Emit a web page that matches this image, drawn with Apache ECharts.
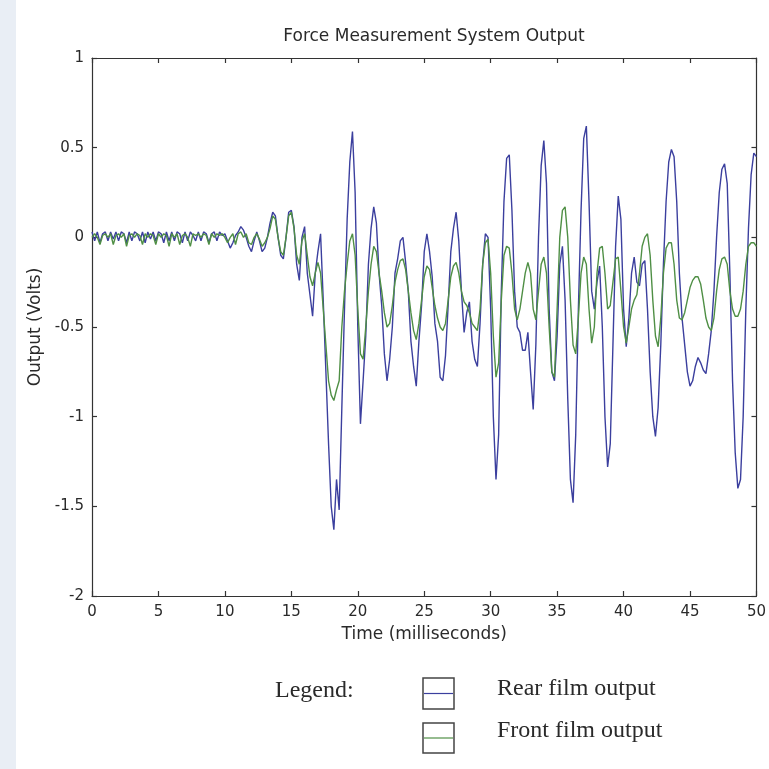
<!DOCTYPE html>
<html><head><meta charset="utf-8">
<script src="https://cdn.jsdelivr.net/npm/echarts@6/dist/echarts.min.js"></script>
<style>html,body{margin:0;padding:0;background:#fff}#c{width:769px;height:769px}</style>
</head><body><div id="c"></div>
<script>
// sample spacing (milliseconds)
const sampleStepMs = 0.2;
const xTicks = [0,5,10,15,20,25,30,35,40,45,50];
const yTicks = [-2,-1.5,-1,-0.5,0,0.5,1];
// Rear film output (Volts), one row = 2 ms
const rearVolts = [
 0.03,-0.02,0.03,-0.03,0.02,0.03,-0.02,0.03,-0.01,0.03,
 -0.02,0.03,0.02,-0.03,0.03,-0.02,0.03,0.02,-0.02,0.03,
 -0.03,0.03,-0.01,0.03,-0.02,0.03,0.02,-0.03,0.03,-0.02,
 0.03,-0.02,0.03,0.02,-0.03,0.03,-0.02,0.03,0.01,-0.02,
 0.03,-0.02,0.03,0.02,-0.03,0.02,0.03,-0.02,0.03,0.01,
 0.02,-0.02,-0.06,-0.03,0.01,0.03,0.06,0.04,0.0,-0.05,
 -0.08,-0.02,0.03,-0.02,-0.08,-0.06,0.0,0.08,0.14,0.12,
 0.0,-0.1,-0.12,0.0,0.14,0.15,0.06,-0.15,-0.24,0.0,
 0.06,-0.2,-0.32,-0.44,-0.2,-0.08,0.02,-0.35,-0.75,-1.15,
 -1.5,-1.63,-1.35,-1.52,-0.95,-0.4,0.1,0.42,0.59,0.25,
 -0.5,-1.04,-0.8,-0.55,-0.15,0.05,0.17,0.08,-0.2,-0.38,
 -0.65,-0.8,-0.68,-0.5,-0.2,-0.12,-0.02,0.0,-0.14,-0.3,
 -0.58,-0.72,-0.83,-0.58,-0.38,-0.08,0.02,-0.08,-0.22,-0.48,
 -0.58,-0.78,-0.8,-0.66,-0.38,-0.08,0.05,0.14,-0.02,-0.3,
 -0.53,-0.42,-0.36,-0.58,-0.68,-0.72,-0.48,-0.15,0.02,0.0,
 -0.4,-1.0,-1.35,-1.1,-0.3,0.2,0.44,0.46,0.15,-0.3,
 -0.5,-0.53,-0.63,-0.63,-0.53,-0.75,-0.96,-0.6,0.0,0.4,
 0.54,0.3,-0.4,-0.75,-0.8,-0.55,-0.15,-0.05,-0.35,-0.9,
 -1.35,-1.48,-1.1,-0.4,0.15,0.55,0.62,0.2,-0.3,-0.4,
 -0.25,-0.16,-0.5,-1.0,-1.28,-1.15,-0.6,-0.05,0.23,0.1,
 -0.4,-0.61,-0.45,-0.2,-0.11,-0.25,-0.27,-0.15,-0.13,-0.4,
 -0.75,-1.0,-1.11,-0.95,-0.6,-0.15,0.2,0.42,0.49,0.45,
 0.2,-0.2,-0.45,-0.6,-0.75,-0.83,-0.8,-0.72,-0.67,-0.7,
 -0.74,-0.76,-0.65,-0.52,-0.3,0.0,0.25,0.38,0.41,0.3,
 -0.2,-0.8,-1.2,-1.4,-1.35,-1.0,-0.4,0.05,0.35,0.47,
 0.45
];
// Front film output (Volts), one row = 2 ms
const frontVolts = [
 0.0,0.02,0.0,-0.04,0.01,0.02,0.0,0.02,-0.04,0.01,
 0.02,0.0,0.02,-0.05,0.01,0.02,0.0,0.02,0.01,-0.04,
 0.02,0.0,0.02,0.01,-0.04,0.02,0.0,0.02,0.01,-0.05,
 0.02,0.0,0.02,-0.04,0.01,0.02,0.0,-0.05,0.02,0.01,
 0.02,0.0,0.02,0.01,-0.04,0.02,0.0,0.02,0.01,0.02,
 0.0,-0.03,0.0,0.02,-0.04,0.02,0.03,0.0,0.02,-0.03,
 -0.04,0.0,0.02,-0.01,-0.05,-0.03,0.0,0.05,0.12,0.1,
 0.0,-0.08,-0.1,0.0,0.12,0.14,0.05,-0.1,-0.15,-0.02,
 0.02,-0.1,-0.22,-0.27,-0.2,-0.14,-0.2,-0.4,-0.6,-0.8,
 -0.88,-0.91,-0.85,-0.8,-0.5,-0.3,-0.15,-0.02,0.02,-0.1,
 -0.4,-0.65,-0.68,-0.5,-0.3,-0.15,-0.05,-0.08,-0.2,-0.3,
 -0.42,-0.5,-0.48,-0.38,-0.25,-0.18,-0.13,-0.12,-0.18,-0.3,
 -0.42,-0.52,-0.57,-0.48,-0.35,-0.22,-0.16,-0.18,-0.28,-0.38,
 -0.45,-0.5,-0.52,-0.48,-0.35,-0.22,-0.16,-0.14,-0.2,-0.3,
 -0.36,-0.38,-0.42,-0.48,-0.5,-0.52,-0.4,-0.15,-0.03,-0.01,
 -0.2,-0.55,-0.78,-0.7,-0.35,-0.1,-0.05,-0.06,-0.2,-0.4,
 -0.46,-0.4,-0.3,-0.2,-0.14,-0.2,-0.4,-0.46,-0.3,-0.15,
 -0.11,-0.2,-0.5,-0.75,-0.78,-0.4,0.0,0.15,0.17,0.0,
 -0.35,-0.6,-0.65,-0.45,-0.2,-0.11,-0.15,-0.4,-0.59,-0.5,
 -0.2,-0.06,-0.05,-0.2,-0.4,-0.38,-0.25,-0.12,-0.11,-0.3,
 -0.5,-0.59,-0.5,-0.4,-0.35,-0.32,-0.2,-0.05,0.0,0.02,
 -0.1,-0.35,-0.55,-0.61,-0.45,-0.2,-0.06,-0.03,-0.03,-0.15,
 -0.35,-0.45,-0.46,-0.42,-0.35,-0.28,-0.24,-0.22,-0.22,-0.26,
 -0.35,-0.45,-0.5,-0.52,-0.45,-0.3,-0.18,-0.12,-0.11,-0.15,
 -0.3,-0.4,-0.44,-0.44,-0.4,-0.3,-0.15,-0.05,-0.03,-0.03,
 -0.05
];
const seriesNames = ['Rear film output','Front film output'];
const rearColor = '#3b3f9e', frontColor = '#4f8f45';

const toPairs = arr => arr.map((v,i) => [+(i*sampleStepMs).toFixed(1), v]);

const sans = '"DejaVu Sans", "Liberation Sans", sans-serif';
const serif = '"Liberation Serif", "Times New Roman", serif';
const axisCol = '#333';
const txtCol = '#2a2a2a';

const axisCommon = {
  axisLine: {show: true, onZero: false, lineStyle: {color: axisCol, width: 1.2}},
  axisTick: {show: true, inside: true, length: 5, lineStyle: {color: axisCol, width: 1.2}},
  splitLine: {show: false}
};

const chart = echarts.init(document.getElementById('c'));
chart.setOption({
  backgroundColor: '#fff',
  animation: false,
  title: {text: 'Force Measurement System Output', left: 429, top: 23, textAlign: 'center',
    textStyle: {fontFamily: sans, fontSize: 17, fontWeight: 'normal', color: txtCol}},
  grid: {left: 92, right: 9, top: 58, bottom: 173, show: false},
  xAxis: [
    Object.assign({type: 'value', min: 0, max: 50, interval: 5, position: 'bottom',
     name: 'Time (milliseconds)', nameLocation: 'middle', nameGap: 30,
     nameTextStyle: {fontFamily: sans, fontSize: 17, color: txtCol},
     axisLabel: {fontFamily: sans, fontSize: 15, color: txtCol, margin: 9}}, axisCommon),
    Object.assign({type: 'value', min: 0, max: 50, interval: 5, position: 'top',
     axisLabel: {show: false}}, axisCommon)
  ],
  yAxis: [
    Object.assign({type: 'value', min: -2, max: 1, interval: 0.5, position: 'left',
     name: 'Output (Volts)', nameLocation: 'middle', nameGap: 47,
     nameTextStyle: {fontFamily: sans, fontSize: 17, color: txtCol},
     axisLabel: {fontFamily: sans, fontSize: 15, color: txtCol, margin: 8}}, axisCommon),
    Object.assign({type: 'value', min: -2, max: 1, interval: 0.5, position: 'right',
     axisLabel: {show: false}}, axisCommon)
  ],
  series: [
    {name: seriesNames[0], type: 'line', showSymbol: false, symbol: 'none',
     data: toPairs(rearVolts), lineStyle: {color: rearColor, width: 1.4}, z: 2},
    {name: seriesNames[1], type: 'line', showSymbol: false, symbol: 'none',
     data: toPairs(frontVolts), lineStyle: {color: frontColor, width: 1.4}, z: 3}
  ],
  graphic: [
    {type: 'rect', shape: {x: 0, y: 0, width: 16, height: 769}, style: {fill: '#e9eef5'}, silent: true, z: -1},
    {type: 'text', left: 275, top: 679, style: {text: 'Legend:', font: '24px ' + serif, fill: txtCol}},
    {type: 'rect', shape: {x: 423, y: 678, width: 31, height: 31}, style: {fill: 'none', stroke: '#444', lineWidth: 1.5}},
    {type: 'line', shape: {x1: 424, y1: 693.5, x2: 453, y2: 693.5}, style: {stroke: rearColor, lineWidth: 1.2}},
    {type: 'rect', shape: {x: 423, y: 723, width: 31, height: 30}, style: {fill: 'none', stroke: '#444', lineWidth: 1.5}},
    {type: 'line', shape: {x1: 424, y1: 738, x2: 453, y2: 738}, style: {stroke: frontColor, lineWidth: 1.2}},
    {type: 'text', left: 497, top: 677, style: {text: seriesNames[0], font: '24px ' + serif, fill: txtCol}},
    {type: 'text', left: 497, top: 719, style: {text: seriesNames[1], font: '24px ' + serif, fill: txtCol}}
  ]
});
</script></body></html>
